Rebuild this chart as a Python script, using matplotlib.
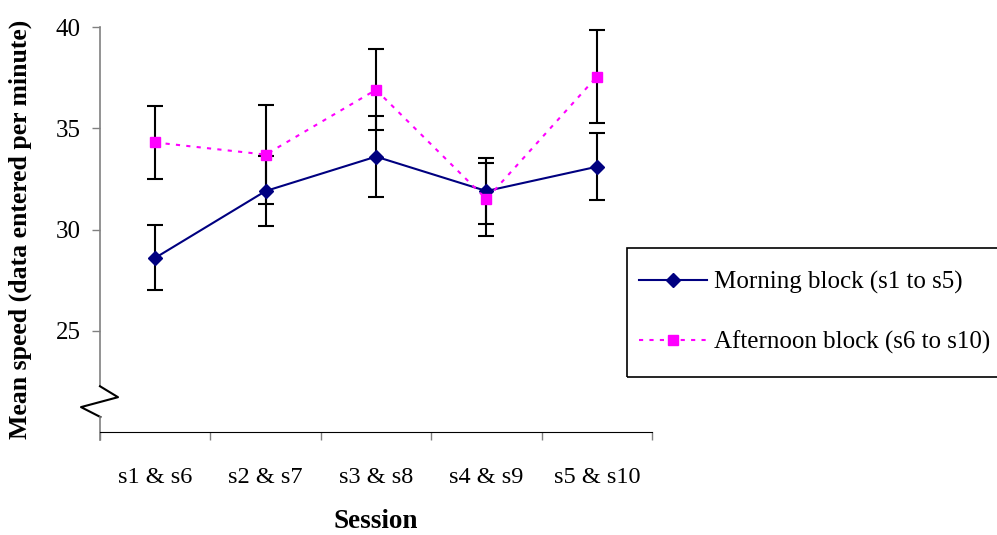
import matplotlib.pyplot as plt
from matplotlib.lines import Line2D
from matplotlib.patches import Rectangle

# data
sessions = ['s1 & s6', 's2 & s7', 's3 & s8', 's4 & s9', 's5 & s10']
morning = [28.6, 31.9, 33.6, 31.9, 33.1]
morning_err = [1.6, 1.75, 2.0, 1.65, 1.65]
afternoon = [34.3, 33.7, 36.9, 31.5, 37.55]
afternoon_err = [1.8, 2.45, 2.0, 1.8, 2.3]

plt.rcParams['font.family'] = ['Liberation Serif', 'DejaVu Serif']

fig = plt.figure(figsize=(9.97, 5.35), dpi=100)
ax = fig.add_axes([0.1003, 0.1925, 0.5537, 0.757])

x = [i + 0.5 for i in range(len(sessions))]

ax.errorbar(x, morning, yerr=morning_err, color='#000080', lw=1.5,
            marker='D', ms=7, ecolor='black', elinewidth=1.5, capsize=6,
            capthick=1.5, zorder=3)
ax.errorbar(x, afternoon, yerr=afternoon_err, color='#FF00FF', lw=1.5,
            ls=(0, (2, 3)), marker='s', ms=7, ecolor='black', elinewidth=1.5,
            capsize=6, capthick=1.5, zorder=3)

ax.set_xlim(0, 5)
ax.set_ylim(20, 40)
ax.set_xticks(range(6))
ax.set_xticklabels([])
ax.set_xticks(x, minor=True)
ax.set_xticklabels(sessions, minor=True, fontsize=17.5)
ax.tick_params(axis='x', which='major', length=6, direction='out', width=1,
               color='#808080')
ax.tick_params(axis='x', which='minor', length=0, pad=25)
ax.set_yticks([25, 30, 35, 40])
ax.tick_params(axis='y', length=6, width=1, color='#808080', labelsize=18, pad=8)

for s in ['top', 'right', 'left']:
    ax.spines[s].set_visible(False)
ax.spines['bottom'].set_color('black')

# y axis with break
gray = '#808080'
ax.plot([0, 0], [40, 22.26], color=gray, lw=1.2, clip_on=False)
ax.plot([0, 0.163, -0.172, 0.004], [22.26, 21.72, 21.23, 20.74],
        color='black', lw=1.5, clip_on=False)
ax.plot([0, 0], [20.74, 19.6], color=gray, lw=1.2, clip_on=False)

ax.set_xlabel('Session', fontsize=19.5, fontweight='bold', labelpad=15)
ax.set_ylabel('Mean speed (data entered per minute)', fontsize=18.5,
              fontweight='bold', labelpad=17)

# legend box (runs off the right edge, as in the original)
W, H = 997, 535
fig.patches.append(Rectangle((627 / W, 1 - 377 / H), 400 / W, 129 / H,
                             transform=fig.transFigure, fill=False,
                             edgecolor='black', lw=1.2))
handles = [
    Line2D([], [], color='#000080', lw=1.5, marker='D', ms=7),
    Line2D([], [], color='#FF00FF', lw=1.5, ls=(0, (2, 3)), marker='s', ms=7),
]
fig.legend(handles, ['Morning block (s1 to s5)', 'Afternoon block (s6 to s10)'],
           loc='center left', bbox_to_anchor=(639 / W, 1 - 312.5 / H),
           fontsize=18, frameon=False, handlelength=2.7, labelspacing=1.45,
           borderpad=0, handletextpad=0.3, borderaxespad=0)

fig.savefig('out.png', dpi=100)
